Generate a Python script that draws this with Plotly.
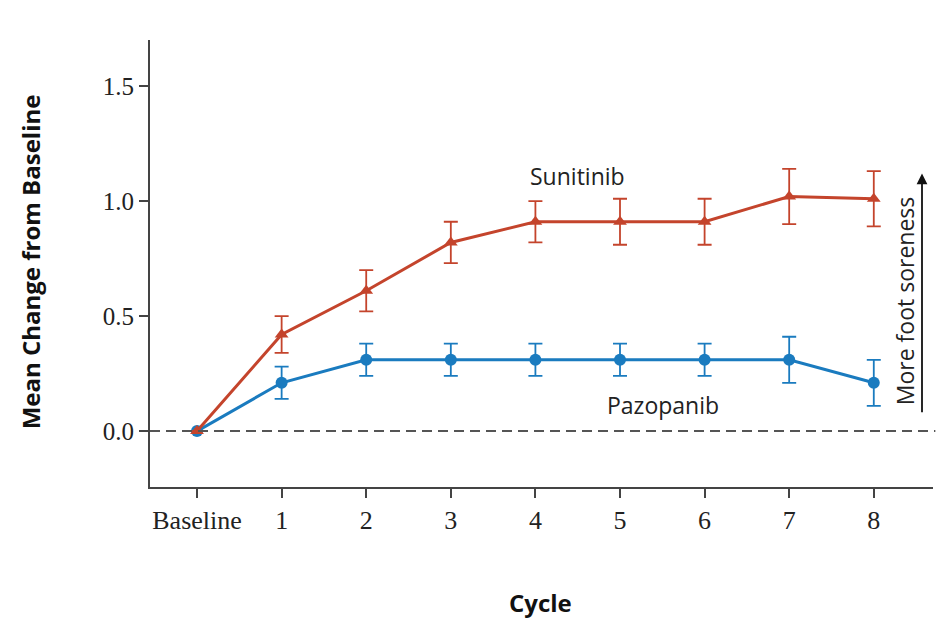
import plotly.graph_objects as go

# Cycle positions (0 = baseline) and their tick labels
cycles = [0, 1, 2, 3, 4, 5, 6, 7, 8]
cycle_labels = ["Baseline", "1", "2", "3", "4", "5", "6", "7", "8"]

# Mean change from baseline and error-bar half widths
sunitinib_mean = [0.0, 0.42, 0.61, 0.82, 0.91, 0.91, 0.91, 1.02, 1.01]
sunitinib_err = [0.0, 0.08, 0.09, 0.09, 0.09, 0.10, 0.10, 0.12, 0.12]
pazopanib_mean = [0.0, 0.21, 0.31, 0.31, 0.31, 0.31, 0.31, 0.31, 0.21]
pazopanib_err = [0.0, 0.07, 0.07, 0.07, 0.07, 0.07, 0.07, 0.10, 0.10]

RED = "#c4442c"
BLUE = "#1a7bbf"
AXIS = "#444444"
TEXT = "#222222"

fig = go.Figure()

# Reference line at zero change
fig.add_shape(type="line", xref="paper", yref="y", x0=0, x1=1.003, y0=0, y1=0,
              line=dict(color="#555555", width=2, dash="10px,6px"))

fig.add_trace(go.Scatter(
    x=cycles, y=pazopanib_mean, mode="lines+markers", name="Pazopanib",
    line=dict(color=BLUE, width=3),
    marker=dict(symbol="circle", size=12, color=BLUE),
    error_y=dict(type="data", array=pazopanib_err, color=BLUE, thickness=1.8, width=7),
))
fig.add_trace(go.Scatter(
    x=cycles, y=sunitinib_mean, mode="lines+markers", name="Sunitinib",
    line=dict(color=RED, width=3),
    marker=dict(symbol="triangle-up", size=12, color=RED),
    error_y=dict(type="data", array=sunitinib_err, color=RED, thickness=1.8, width=7),
))

# Series labels
fig.add_annotation(x=4.50, y=1.109, text="Sunitinib", showarrow=False,
                   font=dict(family="Open Sans", size=23, color=TEXT))
fig.add_annotation(x=5.51, y=0.113, text="Pazopanib", showarrow=False,
                   font=dict(family="Open Sans", size=23, color=TEXT))

# Direction arrow with its caption
fig.add_annotation(x=8.57, y=1.12, ax=8.57, ay=0.075, xref="x", yref="y",
                   axref="x", ayref="y", text="", showarrow=True,
                   arrowhead=2, arrowsize=1.2, arrowwidth=1.8, arrowcolor="#111111")
fig.add_annotation(x=8.37, y=0.565, text="More foot soreness", showarrow=False,
                   textangle=-90,
                   font=dict(family="Open Sans", size=23, color=TEXT))

# Axis titles
fig.add_annotation(xref="paper", yref="paper", x=-0.153, y=0.503,
                   xanchor="center", yanchor="middle",
                   text="<b>Mean Change from Baseline</b>", showarrow=False,
                   textangle=-90, font=dict(family="Open Sans", size=24, color="#111111"))
fig.add_annotation(xref="paper", yref="paper", x=0.499, y=-0.2595,
                   xanchor="center", yanchor="middle",
                   text="<b>Cycle</b>", showarrow=False,
                   font=dict(family="Open Sans", size=24, color="#111111"))

fig.update_layout(
    width=942, height=619,
    margin=dict(l=150, r=9, t=40, b=132),
    paper_bgcolor="white", plot_bgcolor="white",
    showlegend=False,
    font=dict(family="Liberation Serif", size=24, color=TEXT),
)
fig.update_xaxes(
    range=[-0.556, 8.70], tickmode="array", tickvals=cycles, ticktext=cycle_labels,
    showgrid=False, zeroline=False, showline=True, linecolor=AXIS, linewidth=2,
    ticks="outside", ticklen=9, tickwidth=2, tickcolor=AXIS,
    tickfont=dict(family="Liberation Serif", size=26, color=TEXT),
)
fig.update_yaxes(
    range=[-0.243, 1.70], tickmode="array", tickvals=[0, 0.5, 1.0, 1.5],
    ticktext=["0.0", "0.5", "1.0", "1.5"],
    showgrid=False, zeroline=False, showline=True, linecolor=AXIS, linewidth=2,
    ticks="outside", ticklen=9, tickwidth=2, tickcolor=AXIS,
    tickfont=dict(family="Liberation Serif", size=25, color=TEXT),
)

fig.write_html("out.html")
